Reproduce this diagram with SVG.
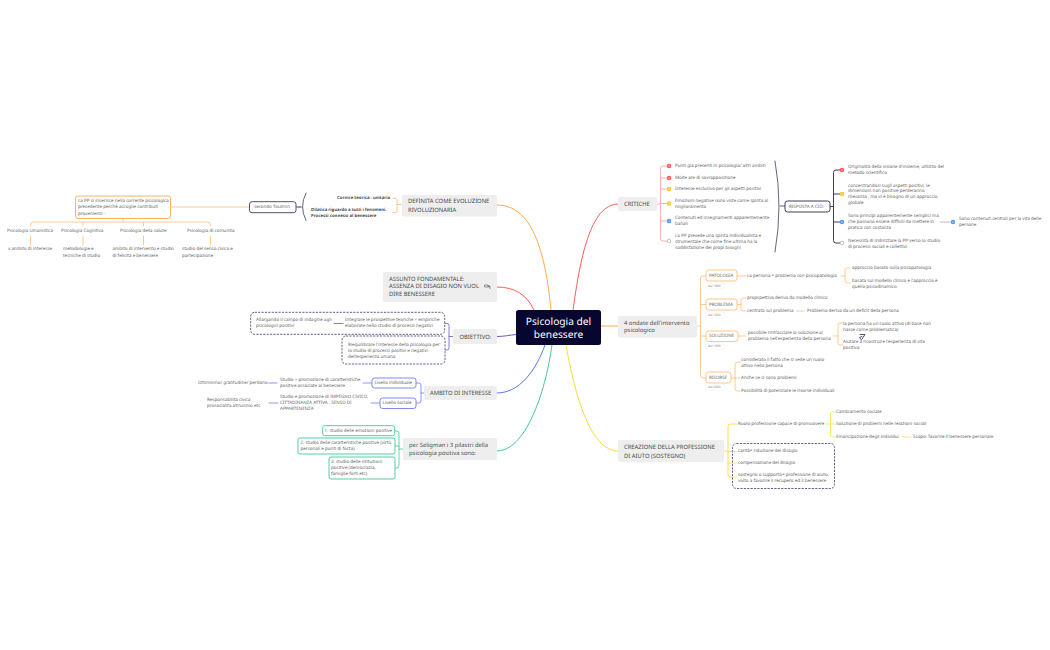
<svg xmlns="http://www.w3.org/2000/svg" width="1050" height="650" viewBox="0 0 1050 650">
<style>
text{font-family:"Noto Sans","Liberation Sans",sans-serif;dominant-baseline:central;fill:#696969;font-size:4.5px;text-rendering:geometricPrecision}
.m{font-size:5.85px;fill:#4a4a4a}
.c{font-size:10.2px;fill:#fff;text-anchor:middle}
.b{font-weight:700;fill:#4a4a55;font-size:4.3px}
.t{font-size:3.2px;fill:#888}
.g{fill:#eeeeee}
.box{fill:#fff;stroke-width:.9}
.dash{fill:#fff;stroke:#3f3a66;stroke-width:.8;stroke-dasharray:2.2 1.2}
.l{fill:none;stroke-width:.8;stroke-linecap:round}
.o{stroke:#ffbd7a}.O{stroke:#ffa94d}.r{stroke:#ff5a5a}.R{stroke:#ffb0b0}.u{stroke:#6f7cf0}.p{stroke:#5f5fc8}.e{stroke:#3fca98}.y{stroke:#ffde4d}.d{stroke:#3f3d5c}
.tag{fill:#fff;stroke:#eee;stroke-width:.5}
.w{stroke:#fff;stroke-width:.6;fill:none}
</style>
<g id="connectors">
<path class="l O" style="stroke-width:1" d="M497 205C532 205 545 250 551 310"/>
<path class="l r" style="stroke-width:1" d="M497 287C515 287 527 295 534 310"/>
<path class="l p" style="stroke-width:1" d="M497 336.500C505 336.500 510 335 516 334.500"/>
<path class="l" style="stroke:#5b78f5;stroke-width:1" d="M497 393C520 393 536 370 545 345"/>
<path class="l e" style="stroke-width:1" d="M497 451C525 451 545 395 552 345"/>
<path class="l r" style="stroke-width:1" d="M618 204C590 204 580 260 573 310"/>
<path class="l O" style="stroke-width:1" d="M601 326H618"/>
<path class="l" style="stroke:#ffd93b;stroke-width:1" d="M618 451C590 451 575 395 566 345"/>
<path class="l o" d="M171 207H250M123 219V222M30.500 226V225Q30.500 222 33.500 222H207.500Q210.500 222 210.500 225V226M83 222V226M143.500 222V226M30.500 236V245M83 236V245M143.500 236V245M210.500 236V245"/>
<path class="l d" d="M296 207H299.500M306 193Q299 206.500 306 220.500M299 207H302"/>
<path class="l o" d="M397 204.500H401M393 198.500H395Q397 198.500 397 200.500V210.500Q397 212.500 395 212.500H393"/>
<path class="l p" d="M449 336.500H453M445 323.500H447Q449 323.500 449 325.500V348Q449 350 447 350H443M334 323.500H343"/>
<path class="l u" d="M421 393H424M416 383H419Q421 383 421 385V401Q421 403 419 403H416M363 383H372M371 403H380M269 383H277M269 403H278"/>
<path class="l e" d="M399 449H403M395 431H397Q399 431 399 433V466Q399 468 397 468H395M395 446H399"/>
<path class="l R" style="stroke-width:1" d="M657 204H660M667 166H663Q660.500 166 660.500 168.500V238.500Q660.500 241 663 241H667M660.500 178H667M660.500 189H667M660.500 203.500H667M660.500 221H667"/>
<path class="l d" d="M775 161Q783 206 775 252M780 206H785"/>
<path class="l d" style="stroke-width:1" d="M830 206.500H833.500M840 170H836Q833.500 170 833.500 172.500V240.500Q833.500 243 836 243H840M833.500 194H840M833.500 222H840"/>
<path class="l" style="stroke:#aaa" d="M940 222H950"/>
<path class="l o" d="M697 326H700.500M706 276H703Q700.500 276 700.500 278.500V375.500Q700.500 378 703 378H706M700.500 304.500H706M700.500 336H706"/>
<path class="l o" d="M737 276H746M841 276H845M850 268H847Q845 268 845 270V281Q845 283 847 283H850"/>
<path class="l o" d="M737 304.500H741M746 298H743Q741 298 741 300V309Q741 311 743 311H746M796 311H804"/>
<path class="l o" d="M738 336H746M833 336H838M843 323H840Q838 323 838 325V343Q838 345 840 345H843"/>
<path class="l o" d="M731 378H735M741 362H737.500Q735 362 735 364.500V388.500Q735 391 737.500 391H740M735 378H740"/>
<path class="l y" style="stroke-width:1" d="M724 451H728M737 424H730.500Q728 424 728 426.500V474.500Q728 477 730.500 477H737M728 451.500H737M728 463H737"/>
<path class="l y" d="M826 424H830.500M835 412H832.500Q830.500 412 830.500 414V435Q830.500 437 832.500 437H835M830.500 424H835M902 437H911"/>
<path class="l d" style="stroke-width:.9" d="M860 334.500H865L862 339M862 336.500L859.500 337.500L861.500 340"/>
</g>
<g id="root"><rect x="516" y="310" width="85" height="35" rx="2.500" fill="#06062e"/><text class="c" x="558.500" y="321">Psicologia del</text><text class="c" x="558.500" y="333.500">benessere</text></g>
<g id="definita"><rect class="g" x="402" y="195" width="95" height="21.500" rx="2"/><text class="m" x="408" y="201">DEFINITA COME EVOLUZIONE</text><text class="m" x="408" y="209.500">RIVOLUZIONARIA</text></g>
<g id="definita-a"><text class="b" x="390" y="198" text-anchor="end">Cornice teorica : unitaria</text></g>
<g id="definita-b"><text class="b" x="311" y="210">Dilatica riguardo a tutti i fenomeni.</text><text class="b" x="311" y="216">Processi connessi al benessere</text></g>
<g id="toulmin"><rect class="box d" x="249.500" y="201.700" width="46.500" height="11" rx="2.500"/><text x="254" y="207">secondo Toulmin</text></g>
<g id="pp"><rect class="box O" x="75.500" y="196" width="95" height="22.500" rx="2.500"/><text x="78" y="201">La PP si inserisce nella corrente psicologica</text><text x="78" y="207">precedente perchè accoglie contributi</text><text x="78" y="213.500">provenienti: :</text></g>
<g id="umanistica"><text x="7" y="231">Psicologia Umanistica</text><text x="8" y="249">x ambito di interesse</text></g>
<g id="cognitiva"><text x="61" y="231">Psicologia Cognitiva</text><text x="63" y="249">metodologie e</text><text x="63" y="255.500">tecniche di studio</text></g>
<g id="salute"><text x="120" y="231">Psicologia della salute</text><text x="112.500" y="249">ambito di intervento e studio</text><text x="112.500" y="255.500">di felicità e benessere</text></g>
<g id="comunita"><text x="187" y="231">Psicologia di comunita</text><text x="182" y="249">studio del senso civico e</text><text x="182" y="255.500">partecipazione</text></g>
<g id="assunto"><rect class="g" x="383" y="272" width="114" height="30" rx="2"/><text class="m" x="389" y="278.500">ASSUNTO FONDAMENTALE:</text><text class="m" x="389" y="286">ASSENZA DI DISAGIO NON VUOL</text><text class="m" x="389" y="294">DIRE BENESSERE</text><path class="l" style="stroke:#555;stroke-width:.6" d="M485 285H488L489.500 287H485ZM487.500 286H490V288.500"/></g>
<g id="obiettivo"><rect class="g" x="453" y="329" width="44" height="15" rx="2"/><text class="m" x="459.500" y="336.500">OBIETTIVO:</text></g>
<g id="obiettivo-a"><rect class="dash" x="250.700" y="312.300" width="194" height="22" rx="4"/><path class="l p" d="M334 323.500H343"/><text x="256" y="320">Allargando il campo di indagine agli</text><text x="256" y="326">psicologici positivi</text><text x="345" y="320">Integrare le prospettive teoriche + empiriche</text><text x="345" y="326">elaborate nello studio di processi negativi</text></g>
<g id="obiettivo-b"><rect class="dash" x="342" y="336" width="103" height="28" rx="4"/><text x="348" y="344.500">Riequilibrare l'interesse della psicologia per</text><text x="348" y="350.500">lo studio di processi positivi e negativi</text><text x="348" y="356.500">dell'esperienza umana</text></g>
<g id="ambito"><rect class="g" x="424" y="386" width="73" height="14" rx="2"/><text class="m" x="430" y="393">AMBITO DI INTERESSE</text></g>
<g id="livello-i"><rect class="box u" x="372" y="378" width="44" height="10" rx="2.500"/><text x="374.500" y="383">Livello individuale</text></g>
<g id="livello-s"><rect class="box u" x="380" y="398" width="36" height="10.500" rx="2.500"/><text x="382.500" y="403.300">Livello sociale</text></g>
<g id="studio-1"><text x="280" y="380">Studio + promozione di caratteristiche</text><text x="280" y="386">positive associate al benessere</text></g>
<g id="studio-2"><text x="280" y="397">Studio e promozione di IMPEGNO CIVICO,</text><text x="280" y="403.300">CITTADINANZA ATTIVA , SENSO DI</text><text x="280" y="409">APPARTENENZA</text></g>
<g id="ottimismo"><text x="198" y="383">Ottimismo/ gratitudine/ perdono</text></g>
<g id="responsabilita"><text x="207" y="400">Responsabilita civica</text><text x="207" y="406">prosocialita altruismo etc</text></g>
<g id="seligman"><rect class="g" x="403" y="438" width="94" height="22" rx="2"/><text class="m" x="409" y="445">per Seligman i 3 pilastri della</text><text class="m" x="409" y="453">psicologia positiva sono:</text></g>
<g id="pilastro-1"><rect class="box e" x="322.700" y="425.700" width="72" height="10" rx="2"/><text x="324.500" y="431">1. studio delle emozioni positive</text></g>
<g id="pilastro-2"><rect class="box e" x="298" y="438" width="97" height="16" rx="2"/><text x="300.500" y="443">2. studio delle caratteristiche positive (virtù</text><text x="300.500" y="449.300">personali e punti di forza)</text></g>
<g id="pilastro-3"><rect class="box e" x="329" y="457" width="66" height="22" rx="2"/><text x="331" y="462">3. studio delle istituzioni</text><text x="331" y="468">positive (democrazia,</text><text x="331" y="474.300">famiglie forti etc)</text></g>
<g id="critiche"><rect class="g" x="618" y="197" width="39" height="14" rx="2"/><text class="m" x="624" y="204">CRITICHE</text></g>
<g id="icons">
<circle cx="669" cy="166" r="2.200" fill="#f55"/><circle cx="669" cy="178" r="2.200" fill="#f55"/><circle cx="669" cy="189" r="2.200" fill="#ffc23d"/><circle cx="669" cy="203.500" r="2.200" fill="#ffc23d"/><circle cx="669" cy="221" r="2.200" fill="#4d94ff"/><circle cx="669" cy="241" r="1.800" fill="#fff" stroke="#999" stroke-width=".6"/>
<circle cx="842" cy="170" r="2.200" fill="#f55"/><circle cx="842" cy="194" r="2.200" fill="#ffc23d"/><circle cx="842" cy="222" r="2.200" fill="#4d94ff"/><circle cx="842" cy="243" r="1.800" fill="#fff" stroke="#999" stroke-width=".6"/><circle cx="953" cy="222" r="2.200" fill="#4d94ff"/>
<path class="w" d="M669 165V167M669 177V179M669 188V190M669 202.500V204.500M669 220V222M842 169V171M842 193V195M842 221V223M953 221V223"/>
</g>
<g id="critica-1"><text x="675" y="166">Punti già presenti in psicologia/ altri ambiti</text></g>
<g id="critica-2"><text x="675" y="178">Molte are di sovrapposizione</text></g>
<g id="critica-3"><text x="675" y="189">Interesse esclusivo per gli aspetti positivi</text></g>
<g id="critica-4"><text x="675" y="201">Emozioni negative sono viste come spinta al</text><text x="675" y="207">miglioramento</text></g>
<g id="critica-5"><text x="675" y="218">Contenuti ed insegnamenti apparentemente</text><text x="675" y="224">banali</text></g>
<g id="critica-6"><text x="675" y="236">La PP prevede una spinta individualista e</text><text x="675" y="241.500">strumentale che come fine ultima ha la</text><text x="675" y="247.500">soddisfazione dei propi bisogni</text></g>
<g id="risposta"><rect class="box d" style="stroke-width:1" x="785" y="201" width="45" height="11" rx="2.500"/><text x="789" y="206.500">RISPOSTA A CIÒ:</text></g>
<g id="risposta-1"><text x="848" y="167">Originalità della visione d'insieme, utilizzo del</text><text x="848" y="172.500">metodo scientifico</text></g>
<g id="risposta-2"><text x="848" y="185.500">concentrandosi sugli aspetti positivi, le</text><text x="848" y="191.300">dimensioni non positive perderanno</text><text x="848" y="197">rilevanza , ma vi è bisogno di un approccio</text><text x="848" y="203">globale</text></g>
<g id="risposta-3"><text x="848" y="216">Sono principi apparentemente semplici ma</text><text x="848" y="222">che possono essere difficili da mettere in</text><text x="848" y="228">pratica con costanza</text></g>
<g id="risposta-3a"><text x="959" y="219">Sono contenuti centrali per la vita delle</text><text x="959" y="225">persone</text></g>
<g id="risposta-4"><text x="848" y="240.500">Necessità di indirizzare la PP verso lo studio</text><text x="848" y="247">di processi sociali e collettivi</text></g>
<g id="ondate"><rect class="g" x="618" y="316" width="79" height="21.500" rx="2"/><text class="m" x="624" y="322.500">4 ondate dell'intervento</text><text class="m" x="624" y="330">psicologico</text></g>
<g id="patologia"><rect class="box o" x="706" y="270" width="31" height="11" rx="2.500"/><text x="709" y="275.500">PATOLOGIA</text><rect class="tag" x="706" y="283" width="18" height="6" rx="1"/><text class="t" x="708" y="286">dal 1890</text></g>
<g id="problema"><rect class="box o" x="706" y="299" width="31" height="11" rx="2.500"/><text x="709" y="304.500">PROBLEMA</text><rect class="tag" x="706" y="312" width="18" height="6" rx="1"/><text class="t" x="708" y="315">dal 1950</text></g>
<g id="soluzione"><rect class="box o" x="706" y="331" width="32" height="10.500" rx="2.500"/><text x="709" y="336">SOLUZIONE</text><rect class="tag" x="706" y="343" width="18" height="6" rx="1"/><text class="t" x="708" y="346">dal 1990</text></g>
<g id="risorse"><rect class="box o" x="706" y="372" width="25" height="11" rx="2.500"/><text x="709" y="377.500">RISORSE</text><rect class="tag" x="706" y="384" width="18" height="6" rx="1"/><text class="t" x="708" y="387">dal 2000</text></g>
<g id="pat-a"><text x="747" y="276">La persona = problema con psicopatologia</text></g>
<g id="pat-b"><text x="852" y="268">approccio basato sulla psicopatologia</text></g>
<g id="pat-c"><text x="852" y="280.500">basata sul modello clinico e l'approccio è</text><text x="852" y="286.500">quello psicodinamico</text></g>
<g id="pro-a"><text x="747" y="298">propspettiva deriva da modello clinico</text></g>
<g id="pro-b"><text x="747" y="311">centrata sul problema</text></g>
<g id="pro-c"><text x="807" y="311">Problema deriva da un deficit della persona</text></g>
<g id="sol-a"><text x="748" y="333">possibile rintracciare la soluzione al</text><text x="748" y="339">problema nell'esperienza della persona</text></g>
<g id="sol-b"><text x="843" y="324">la persona ha un ruolo attivo (di base non</text><text x="843" y="330">nasce come problematica)</text></g>
<g id="sol-c"><text x="843" y="342">Aiutare a ricostruire l'esperienza di vita</text><text x="843" y="348">positiva</text></g>
<g id="ris-a"><text x="741" y="360">considerato il fatto che si vede un ruolo</text><text x="741" y="365.500">attivo nella persona</text></g>
<g id="ris-b"><text x="741" y="378">Anche se ci sono problemi</text></g>
<g id="ris-c"><text x="741" y="391">Possibilità di potenziare le risorse individuali</text></g>
<g id="creazione"><rect class="g" x="618" y="440" width="106" height="22" rx="2"/><text class="m" x="624" y="447">CREAZIONE DELLA PROFESSIONE</text><text class="m" x="624" y="455.500">DI AIUTO (SOSTEGNO)</text></g>
<g id="ruolo"><text x="738" y="424">Ruolo professione capace di promuovere</text></g>
<g id="cambiamento"><text x="836" y="412">Cambiamento sociale</text></g>
<g id="soluzione-rel"><text x="836" y="424">Soluzione di problemi nelle relazioni sociali</text></g>
<g id="emancipazione"><text x="836" y="437">Emancipazione degli individui</text></g>
<g id="scopo"><text x="913" y="437">Scopo: favorire il benessere personale</text></g>
<g id="sostegno"><rect class="dash" x="732.500" y="443.500" width="102" height="45" rx="4"/><path class="l y" d="M733 451.500H737M733 463H737M733 477H737"/><text x="738" y="451">carità= riduzione del disagio</text><text x="738" y="463">compensazione del disagio</text><text x="738" y="475">sostegno o supporto= professione di aiuto,</text><text x="738" y="481">volto a favorire il recupero ed il benessere</text></g>
</svg>
